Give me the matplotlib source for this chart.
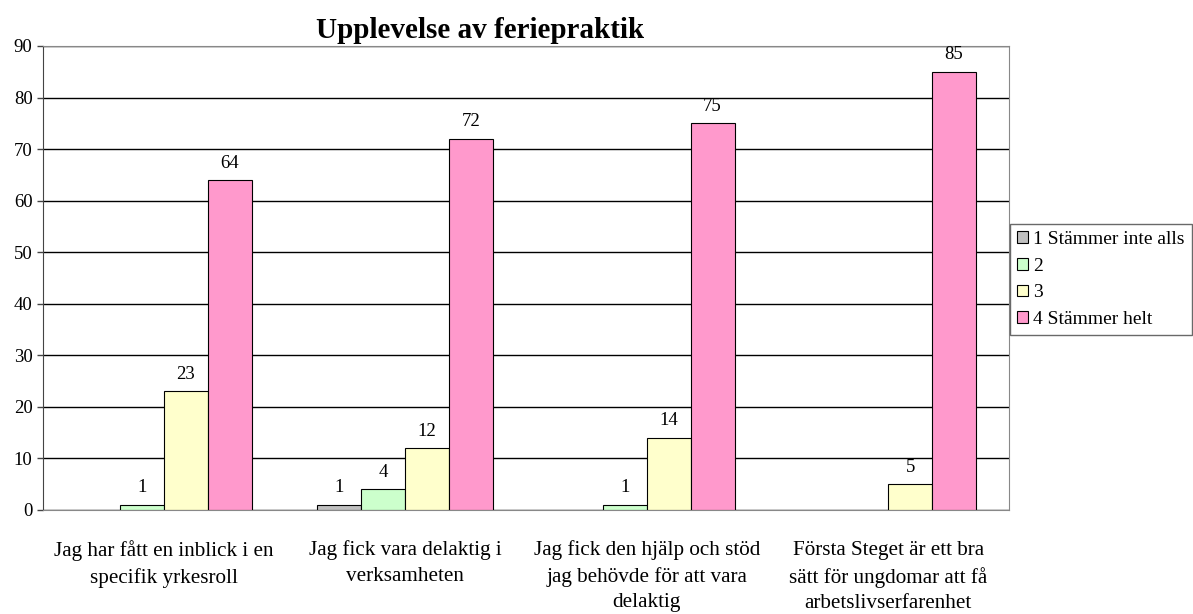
import numpy as np
import matplotlib.pyplot as plt

plt.rcParams['font.family'] = ['Liberation Serif', 'DejaVu Serif']

categories = ["Jag har fått en inblick i en\nspecifik yrkesroll",
              "Jag fick vara delaktig i\nverksamheten",
              "Jag fick den hjälp och stöd\njag behövde för att vara\ndelaktig",
              "Första Steget är ett bra\nsätt för ungdomar att få\narbetslivserfarenhet"]
series = ["1 Stämmer inte alls", "2", "3", "4 Stämmer helt"]
values = [
    [0, 1, 0, 0],
    [1, 4, 1, 0],
    [23, 12, 14, 5],
    [64, 72, 75, 85],
]
colors = ["#C0C0C0", "#CCFFCC", "#FFFFCC", "#FF99CC"]

fig = plt.figure(figsize=(11.93, 6.14), dpi=100)
ax = fig.add_axes([43/1193, 1-510/614, (1009-43)/1193, (510-46)/614])

x = np.arange(len(categories))
w = 1/5.5
for i, (name, vals) in enumerate(zip(series, values)):
    off = (i - 1.5) * w
    h = [v if v > 0 else np.nan for v in vals]
    ax.bar(x + off, h, w, color=colors[i], edgecolor='black',
           linewidth=0.8, label=name)
    for xi, v in zip(x, vals):
        if v > 0:
            ax.annotate(str(v), (xi + off, v), xytext=(0, 9),
                        textcoords='offset points', ha='center',
                        va='baseline', fontsize=13.5)

ax.set_xlim(-0.5, 3.5)
ax.set_ylim(0, 90)
ax.set_yticks(range(0, 91, 10))
ax.yaxis.grid(True, color='black', linewidth=1)
ax.set_axisbelow(True)
ax.set_xticks(x)
ax.set_xticklabels(categories, fontsize=15.2, linespacing=1.45)
ax.tick_params(axis='x', length=0, pad=22)
ax.tick_params(axis='y', labelsize=13.5, length=4, width=1, color='#444444')
for s in ['top', 'right', 'bottom']:
    ax.spines[s].set_color('#888888')
ax.spines['left'].set_color('#444444')

fig.text(480/1193, 1-38/614, "Upplevelse av feriepraktik", ha='center',
         va='baseline', fontsize=21, fontweight='bold')

leg = ax.legend(loc='upper left', bbox_to_anchor=(1010/1193, 1-224/614),
                bbox_transform=fig.transFigure, frameon=True, fancybox=False,
                fontsize=14, handlelength=0.55, handleheight=0.55,
                handletextpad=0.3, labelspacing=0.5, borderaxespad=0,
                borderpad=0.35)
leg.get_frame().set_edgecolor('#444444')
leg.get_frame().set_linewidth(1)

fig.savefig('out.png', dpi=100)
